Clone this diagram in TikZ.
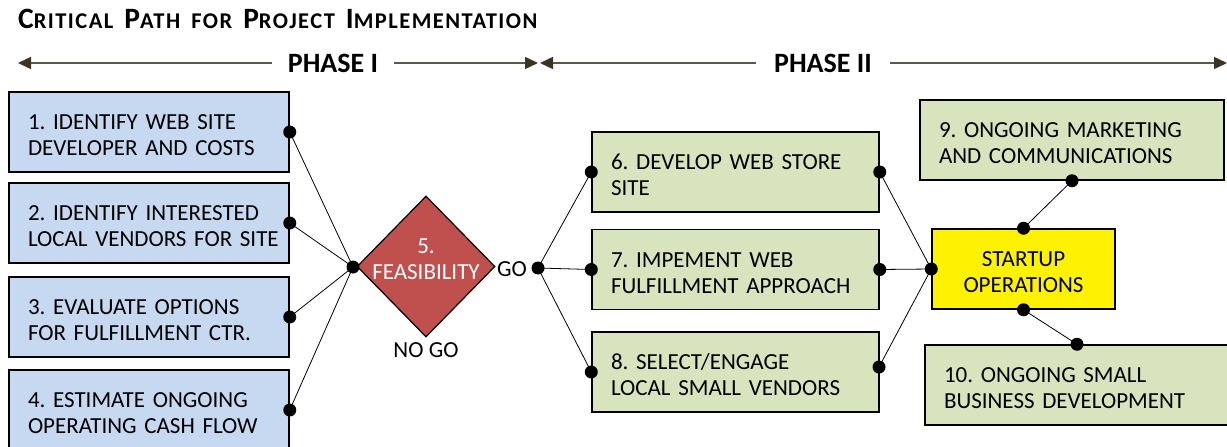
\documentclass[tikz,border=0pt]{standalone}
\usepackage{fontspec}
\setmainfont{Carlito}
\newfontfamily\boxfont{Carlito}[WordSpace=0.8]
\newfontfamily\titlefont{Carlito}[LetterSpace=6.5]
\usetikzlibrary{arrows.meta,shapes.geometric}
\frenchspacing
\definecolor{bluefill}{HTML}{C6D9F1}
\definecolor{greenfill}{HTML}{D7E4BD}
\definecolor{redfill}{HTML}{C0504D}
\definecolor{phaseline}{HTML}{5A5A4A}
\definecolor{phasehead}{HTML}{3B3323}
\newcommand\tsc[2]{{\fontsize{29.5}{32}\selectfont #1}{\fontsize{22.5}{32}\selectfont #2}}
\newcommand\tsp{\hspace{11pt}}
\newcommand\twol[2]{\rule{0pt}{22pt}\mbox{#1}\\\mbox{#2}}
\tikzset{
  box/.style={draw=black, line width=1.5pt, rectangle, inner xsep=19pt, inner ysep=0pt,
    align=left, font=\boxfont\fontsize{23}{26}\selectfont},
  bluebox/.style={box, fill=bluefill, minimum width=280pt, minimum height=80pt, text width=242pt},
  greenbox/.style={box, fill=greenfill, minimum height=80pt},
  startbox/.style={box, fill=yellow, minimum height=80pt, text width=145pt, align=center},
  decision/.style={diamond, draw=black, line width=1.2pt, fill=redfill, inner sep=0pt,
    minimum width=138pt, minimum height=141pt},
  plain/.style={inner sep=0pt, font=\fontsize{23}{26}\selectfont},
  phase/.style={inner sep=0pt, font=\bfseries\fontsize{28}{30}\selectfont},
  link/.style={draw=black, line width=0.8pt},
  phasearrow/.style={draw=phaseline, line width=1.5pt,
    arrows={-{Triangle[length=13pt,width=12pt,fill=phasehead,color=phasehead]}}},
  dot/.style={fill=black}
}
\begin{document}
\begin{tikzpicture}[x=1pt,y=-1pt]
\useasboundingbox (0,0) rectangle (1227,447);
\clip (0,0) rectangle (1227,447);

% title
\node[anchor=base west, inner sep=0pt, font=\titlefont\bfseries] (title) at (18,28.5)
  {\tsc{C}{RITICAL}\tsp\tsc{P}{ATH}\tsp{\fontsize{22.5}{32}\selectfont FOR}\tsp\tsc{P}{ROJECT}\tsp\tsc{I}{MPLEMENTATION}};

% phase arrows
\coordinate (p1l) at (18,63);
\coordinate (p1r) at (538,63);
\coordinate (p2l) at (540,63);
\coordinate (p2r) at (1227,63);
\node[phase] (ph1) at (333,63) {PHASE I};
\node[phase] (ph2) at (823,63) {PHASE II};
\draw[phasearrow] ([xshift=-16pt]ph1.west) -- (p1l);
\draw[phasearrow] ([xshift=16pt]ph1.east) -- (p1r);
\draw[phasearrow] ([xshift=-18pt]ph2.west) -- (p2l);
\draw[phasearrow] ([xshift=18pt]ph2.east) -- (p2r);

% phase I boxes
\node[bluebox] (b1) at (149,132) {\twol{1. IDENTIFY WEB SITE}{DEVELOPER AND COSTS}};
\node[bluebox] (b2) at (149,223) {\twol{2. IDENTIFY INTERESTED}{LOCAL VENDORS FOR SITE}};
\node[bluebox] (b3) at (149,317) {\twol{3. EVALUATE OPTIONS}{FOR FULFILLMENT CTR.}};
\node[bluebox] (b4) at (149,410) {\twol{4. ESTIMATE ONGOING}{OPERATING CASH FLOW}};

% decision
\node[decision] (d5) at (426,266.5) {};
\node[plain, align=center, text=white] (d5t) at (426,259) {5.\\FEASIBILITY};
\node[plain, anchor=west] (go) at (497,269) {GO};
\node[plain] (nogo) at (426,350) {NO GO};
\coordinate (hub) at (353,267);
\coordinate (gohub) at (538,268);

% phase II boxes
\node[greenbox, text width=249pt] (b6) at (735.5,172) {\twol{6. DEVELOP WEB STORE}{SITE}};
\node[greenbox, text width=249pt] (b7) at (735.5,269.5) {\twol{7. IMPEMENT WEB}{FULFILLMENT APPROACH}};
\node[greenbox, text width=249pt] (b8) at (735.5,372) {\twol{8. SELECT/ENGAGE}{LOCAL SMALL VENDORS}};
\node[startbox] (st) at (1023.5,269) {\twol{STARTUP}{OPERATIONS}};
\node[greenbox, text width=266pt] (b9) at (1072,140) {\twol{9. ONGOING MARKETING}{AND COMMUNICATIONS}};
\node[greenbox, text width=266pt] (b10) at (1077,385) {\twol{10. ONGOING SMALL}{BUSINESS DEVELOPMENT}};

% connectors
\coordinate (b8r) at (879,367);
\foreach \b in {b1,b2,b3,b4} \draw[link] (\b.east) -- (hub);
\foreach \b in {b6,b7,b8} \draw[link] (gohub) -- (\b.west);
\draw[link] (b6.east) -- (st.west);
\draw[link] (b7.east) -- (st.west);
\draw[link] (b8r) -- (st.west);
\draw[link] (st.north) -- (b9.south);
\draw[link] (st.south) -- (b10.north);

% dots
\foreach \p in {b1.east,b2.east,b3.east,b4.east,hub,gohub,b6.west,b7.west,b8.west,
  b6.east,b7.east,b8r,st.west,st.north,st.south,b9.south,b10.north}
  \fill[dot] (\p) circle (6.5);
\end{tikzpicture}
\end{document}
